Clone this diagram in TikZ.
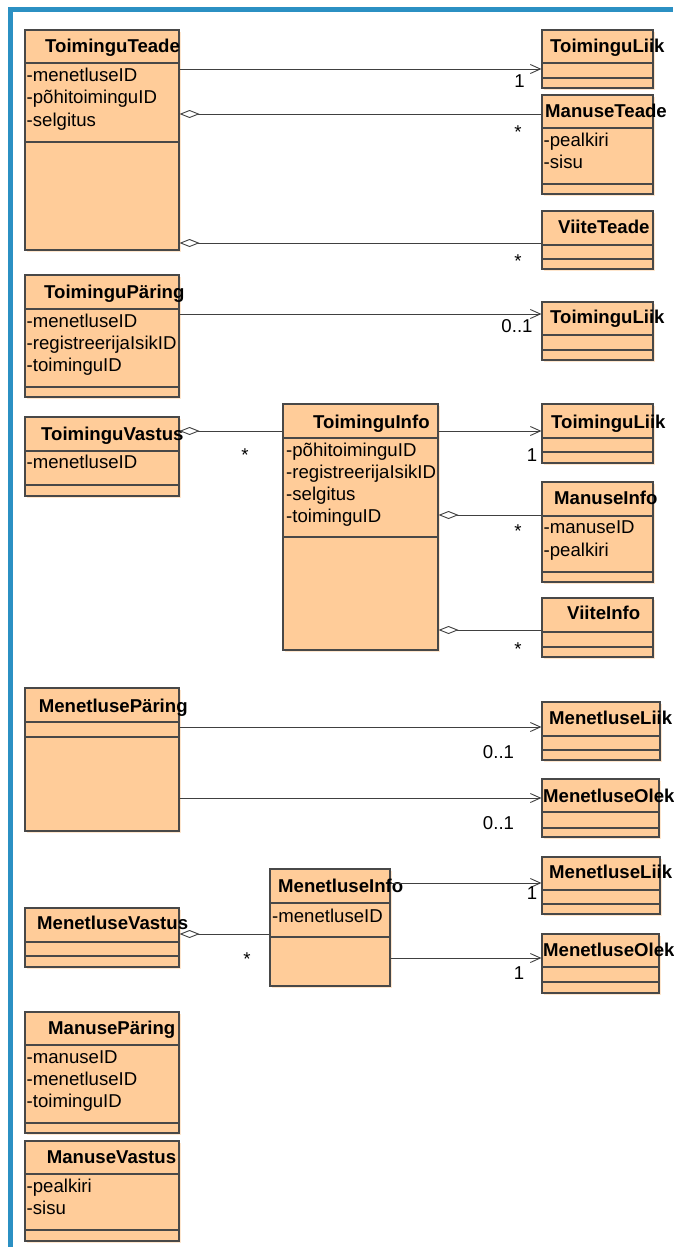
\documentclass[tikz,border=0pt]{standalone}
\usepackage{fontspec}
\setmainfont{Liberation Sans}
\usetikzlibrary{arrows.meta,fit,shadows}

\definecolor{frameblue}{RGB}{43,144,195}
\definecolor{classfill}{RGB}{255,204,153}
\definecolor{classshade}{RGB}{255,230,205}
\definecolor{edgegray}{RGB}{72,72,72}
\definecolor{linkgray}{RGB}{64,64,64}

\tikzset{
  classbox/.style={draw=edgegray, line width=1.1pt, fill=classfill, inner sep=0pt,
    drop shadow={shadow xshift=1.6pt, shadow yshift=-1.6pt, fill=classshade, opacity=1}},
  divider/.style={draw=edgegray, line width=1.1pt},
  title/.style={inner sep=0pt, anchor=base west, font=\fontsize{18.6}{22}\selectfont\bfseries},
  attr/.style={inner sep=0pt, anchor=base west, font=\fontsize{18.6}{22}\selectfont},
  mult/.style={inner sep=0pt, anchor=base, font=\fontsize{18.6}{22}\selectfont},
  assoc/.style={draw=linkgray, line width=0.9pt,
    -{Straight Barb[length=10pt,width=9pt,line width=0.9pt]}},
  aggr/.style={draw=linkgray, line width=0.9pt,
    {Diamond[fill=white,length=20pt,width=8pt,line width=0.9pt]}-},
}

% class rectangle with its two compartment lines:
% name, left, top, right, bottom, first line, second line
\newcommand\umlclass[7]{%
  \node[classbox, fit={(#2,#3) (#4,#5)}] (#1) {};
  \draw[divider] (#2,#6) -- (#4,#6);
  \draw[divider] (#2,#7) -- (#4,#7);
}

\begin{document}
\begin{tikzpicture}[x=1pt,y=-1pt]
  \useasboundingbox (0,0) rectangle (673,1247);
  \fill[white] (0,0) rectangle (673,1247);

  % frame along the top and left edges
  \fill[frameblue] (8,7) rectangle (673,12.3);
  \fill[frameblue] (8,7) rectangle (13.3,1247);

  % ---------- classes ----------
  \umlclass{tt}{25}{30}{179}{250}{63}{142}
  \umlclass{tl1}{542}{30}{653}{88}{63}{78}
  \umlclass{mt}{542}{95}{653}{194}{128}{184}
  \umlclass{vt}{542}{211}{653}{269}{245}{259}
  \umlclass{tp}{25}{275}{179}{397}{309}{387}
  \umlclass{tl2}{542}{302}{653}{360}{335}{350}
  \umlclass{tv}{25}{417}{179}{496}{451}{485}
  \umlclass{ti}{283}{404}{438}{650}{438}{537}
  \umlclass{tl3}{542}{404}{653}{463}{438}{452}
  \umlclass{mi}{542}{482}{653}{582}{516}{572}
  \umlclass{vi}{542}{598}{653}{657}{632}{647}
  \umlclass{mp}{25}{688}{179}{831}{722}{737}
  \umlclass{ml1}{542}{702}{660}{760}{736}{750}
  \umlclass{mo1}{542}{779}{659}{837}{812}{828}
  \umlclass{mv}{25}{908}{179}{967}{942}{956}
  \umlclass{mni}{270}{869}{390}{986}{903}{937}
  \umlclass{ml2}{542}{857}{660}{914}{890}{904}
  \umlclass{mo2}{542}{934}{659}{993}{967}{982}
  \umlclass{mpr}{25}{1012}{179}{1133}{1045}{1123}
  \umlclass{mvs}{25}{1141}{179}{1241}{1174}{1230}

  % ---------- class names ----------
  \node[title] (tt-n)  at (45,52.5)    {ToiminguTeade};
  \node[title] (tl1-n) at (550,52.5)   {ToiminguLiik};
  \node[title] (mt-n)  at (545,117.5)  {ManuseTeade};
  \node[title] (vt-n)  at (558,233.5)  {ViiteTeade};
  \node[title] (tp-n)  at (44,298.5)   {ToiminguPäring};
  \node[title] (tl2-n) at (550,323)    {ToiminguLiik};
  \node[title] (tv-n)  at (41,440.5)   {ToiminguVastus};
  \node[title] (ti-n)  at (313,428.5)  {ToiminguInfo};
  \node[title] (tl3-n) at (551,428)    {ToiminguLiik};
  \node[title] (mi-n)  at (554,504.5)  {ManuseInfo};
  \node[title] (vi-n)  at (567,619.5)  {ViiteInfo};
  \node[title] (mp-n)  at (38.6,712.5) {MenetlusePäring};
  \node[title] (ml1-n) at (549,724.5)  {MenetluseLiik};
  \node[title] (mo1-n) at (543,802.5)  {MenetluseOlek};
  \node[title] (mv-n)  at (37,929.5)   {MenetluseVastus};
  \node[title] (mni-n) at (278,892.5)  {MenetluseInfo};
  \node[title] (ml2-n) at (549,878.5)  {MenetluseLiik};
  \node[title] (mo2-n) at (543,956.5)  {MenetluseOlek};
  \node[title] (mpr-n) at (48,1034.5)  {ManusePäring};
  \node[title] (mvs-n) at (46.7,1163.5){ManuseVastus};

  % ---------- attributes ----------
  \node[attr] (tt-a1) at (26.5,81.7)  {-menetluseID};
  \node[attr] (tt-a2) at (26.5,103.9) {-põhitoiminguID};
  \node[attr] (tt-a3) at (26.5,126.1) {-selgitus};

  \node[attr] (mt-a1) at (543.5,146.5) {-pealkiri};
  \node[attr] (mt-a2) at (543.5,168.5) {-sisu};

  \node[attr] (tp-a1) at (26.5,327.5) {-menetluseID};
  \node[attr] (tp-a2) at (26.5,349.5) {-registreerijaIsikID};
  \node[attr] (tp-a3) at (26.5,371.5) {-toiminguID};

  \node[attr] (tv-a1) at (26.5,468.5) {-menetluseID};

  \node[attr] (ti-a1) at (286,456.5) {-põhitoiminguID};
  \node[attr] (ti-a2) at (286,478.5) {-registreerijaIsikID};
  \node[attr] (ti-a3) at (286,500.5) {-selgitus};
  \node[attr] (ti-a4) at (286,522.5) {-toiminguID};

  \node[attr] (mi-a1) at (543.5,533.5) {-manuseID};
  \node[attr] (mi-a2) at (543.5,556.5) {-pealkiri};

  \node[attr] (mni-a1) at (272,922.5) {-menetluseID};

  \node[attr] (mpr-a1) at (26.5,1063.5) {-manuseID};
  \node[attr] (mpr-a2) at (26.5,1085.5) {-menetluseID};
  \node[attr] (mpr-a3) at (26.5,1107.5) {-toiminguID};

  \node[attr] (mvs-a1) at (26.5,1192.5) {-pealkiri};
  \node[attr] (mvs-a2) at (26.5,1214.5) {-sisu};

  % ---------- connector heights ----------
  \coordinate (r1)  at (0,69);
  \coordinate (r2)  at (0,114);
  \coordinate (r3)  at (0,243);
  \coordinate (r4)  at (0,314);
  \coordinate (r5)  at (0,431);
  \coordinate (r6)  at (0,515);
  \coordinate (r7)  at (0,630);
  \coordinate (r8)  at (0,727);
  \coordinate (r9)  at (0,798);
  \coordinate (r10) at (0,934);
  \coordinate (r11) at (0,883);
  \coordinate (r12) at (0,958);

  % ---------- connectors ----------
  \draw[assoc] (tt.east |- r1) -- (tl1.west |- r1);
  \draw[aggr]  (tt.east |- r2) -- (mt.west |- r2);
  \draw[aggr]  (tt.east |- r3) -- (vt.west |- r3);
  \draw[assoc] (tp.east |- r4) -- (tl2.west |- r4);
  \draw[aggr]  (tv.east |- r5) -- (ti.west |- r5);
  \draw[assoc] (ti.east |- r5) -- (tl3.west |- r5);
  \draw[aggr]  (ti.east |- r6) -- (mi.west |- r6);
  \draw[aggr]  (ti.east |- r7) -- (vi.west |- r7);
  \draw[assoc] (mp.east |- r8) -- (ml1.west |- r8);
  \draw[assoc] (mp.east |- r9) -- (mo1.west |- r9);
  \draw[aggr]  (mv.east |- r10) -- (mni.west |- r10);
  \draw[assoc] (mni.east |- r11) -- (ml2.west |- r11);
  \draw[assoc] (mni.east |- r12) -- (mo2.west |- r12);

  % ---------- multiplicities ----------
  \node[mult] (k1)  at (519.5,87.5) {1};
  \node[mult] (k2)  at (518,138.3)  {*};
  \node[mult] (k3)  at (518,267.3)  {*};
  \node[mult] (k4)  at (517,332.5)  {0..1};
  \node[mult] (k5)  at (245,461)    {*};
  \node[mult] (k6)  at (532,461.5)  {1};
  \node[mult] (k7)  at (518,537.3)  {*};
  \node[mult] (k8)  at (518,655.3)  {*};
  \node[mult] (k9)  at (498.5,758.5) {0..1};
  \node[mult] (k10) at (498.5,829.5) {0..1};
  \node[mult] (k11) at (247,965.3)  {*};
  \node[mult] (k12) at (532,899.5)  {1};
  \node[mult] (k13) at (519,979.5)  {1};
\end{tikzpicture}
\end{document}
